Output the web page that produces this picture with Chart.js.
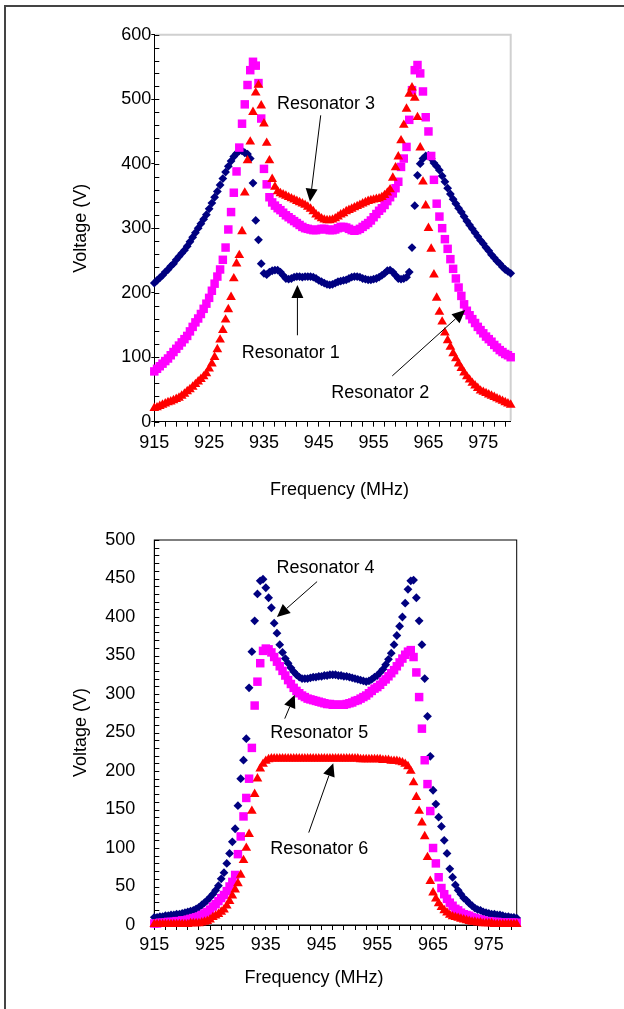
<!DOCTYPE html>
<html>
<head>
<meta charset="utf-8">
<title>Resonator voltages</title>
<script src="https://cdn.jsdelivr.net/npm/chart.js@4.4.1/dist/chart.umd.min.js"></script>
<style>
  html, body { margin: 0; padding: 0; background: #fff; }
  body { width: 624px; height: 1009px; position: relative; overflow: hidden; }
  canvas { position: absolute; left: 0; }
  #topChart { top: 0; }
  #bottomChart { top: 505px; }
  #frame { position: absolute; left: 4px; top: 5px; right: 0; bottom: 0;
           border-top: 2px solid #444; border-left: 2px solid #444; pointer-events: none; }
</style>
</head>
<body>
<canvas id="topChart" width="624" height="505"></canvas>
<canvas id="bottomChart" width="624" height="504"></canvas>
<div id="frame"></div>
<script>
"use strict";

// frequency steps (MHz), shared by both plots
const freqMHz = [
  915, 915.5, 916, 916.5, 917, 917.5, 918, 918.5, 919, 919.5,
  920, 920.5, 921, 921.5, 922, 922.5, 923, 923.5, 924, 924.5,
  925, 925.5, 926, 926.5, 927, 927.5, 928, 928.5, 929, 929.5,
  930, 930.5, 931, 931.5, 932, 932.5, 933, 933.5, 934, 934.5,
  935, 935.5, 936, 936.5, 937, 937.5, 938, 938.5, 939, 939.5,
  940, 940.5, 941, 941.5, 942, 942.5, 943, 943.5, 944, 944.5,
  945, 945.5, 946, 946.5, 947, 947.5, 948, 948.5, 949, 949.5,
  950, 950.5, 951, 951.5, 952, 952.5, 953, 953.5, 954, 954.5,
  955, 955.5, 956, 956.5, 957, 957.5, 958, 958.5, 959, 959.5,
  960, 960.5, 961, 961.5, 962, 962.5, 963, 963.5, 964, 964.5,
  965, 965.5, 966, 966.5, 967, 967.5, 968, 968.5, 969, 969.5,
  970, 970.5, 971, 971.5, 972, 972.5, 973, 973.5, 974, 974.5,
  975, 975.5, 976, 976.5, 977, 977.5, 978, 978.5, 979, 979.5,
  980
];

// top plot (V)
const res1 = [
  215, 219, 223, 227, 232, 236, 241, 245, 251, 256,
  261, 266, 272, 279, 286, 293, 300, 307, 314, 321,
  330, 339, 348, 357, 367, 377, 387, 396, 404, 411,
  416, 420, 420, 417, 415, 408, 370, 312, 282, 245,
  230, 228, 232, 234, 235, 235, 232, 227, 222, 221,
  222, 224, 225, 225, 224, 225, 225, 225, 224, 222,
  219, 217, 215, 213, 212, 213, 215, 217, 218, 219,
  220, 222, 224, 225, 225, 224, 222, 221, 220, 220,
  221, 222, 224, 227, 230, 234, 235, 232, 227, 222,
  221, 222, 224, 232, 270, 335, 382, 400, 408, 412,
  413, 408, 401, 396, 390, 381, 372, 362, 353, 345,
  338, 331, 325, 318, 311, 305, 299, 293, 287, 281,
  276, 270, 265, 259, 254, 249, 245, 240, 236, 233,
  230
];
const res2 = [
  78, 82, 86, 90, 94, 98, 103, 108, 113, 118,
  123, 128, 133, 140, 147, 154, 160, 167, 175, 183,
  192, 203, 214, 225, 236, 251, 270, 298, 325, 355,
  388, 425, 462, 492, 522, 545, 558, 552, 525, 470,
  392, 368, 348, 340, 335, 331, 328, 324, 320, 317,
  314, 311, 308, 305, 302, 300, 299, 298, 297, 297,
  298, 299, 299, 298, 297, 297, 298, 300, 302, 302,
  301, 299, 297, 296, 297, 299, 302, 305, 308, 312,
  317, 322, 327, 331, 336, 342, 348, 354, 362, 372,
  395, 408, 426, 468, 514, 545, 553, 540, 512, 472,
  450, 412, 375, 338, 318, 300, 283, 268, 252, 237,
  222, 208, 195, 182, 172, 165, 159, 153, 147, 142,
  137, 132, 128, 124, 119, 115, 111, 108, 105, 103,
  100
];
const res3 = [
  21, 22, 24, 26, 28, 30, 31, 33, 35, 37,
  40, 43, 47, 50, 54, 58, 62, 66, 70, 75,
  82, 90, 100, 112, 127, 142, 158, 174, 193, 222,
  245, 258, 295, 355, 405, 434, 480, 510, 522, 490,
  462, 432, 405, 376, 364, 357, 354, 352, 350, 348,
  346, 344, 342, 340, 338, 336, 333, 330, 326, 321,
  318, 315, 313, 312, 312, 313, 315, 318, 321, 323,
  326, 328, 330, 332, 334, 336, 338, 340, 342, 343,
  344, 345, 346, 348, 351, 355, 360, 378, 394, 411,
  436, 460, 485, 508, 518, 502, 472, 425, 372, 335,
  300, 268, 228, 192, 170, 155, 138, 126, 116, 106,
  98, 90, 83, 76, 70, 65, 60, 56, 52, 48,
  46, 44, 42, 40, 38, 36, 34, 32, 30, 28,
  26
];

// bottom plot (V)
const res4 = [
  10, 10, 11, 11, 12, 12, 13, 13, 14, 14,
  15, 16, 17, 18, 19, 21, 23, 26, 29, 32,
  36, 40, 45, 51, 60, 68, 80, 93, 108, 125,
  155, 190, 214, 242, 308, 355, 395, 430, 447, 449,
  438, 425, 412, 392, 379, 364, 354, 346, 340, 334,
  329, 325, 322, 320, 320, 320, 321, 322, 322, 323,
  323, 324, 324, 325, 325, 325, 324, 324, 323, 323,
  322, 321, 320, 319, 318, 317, 316, 317, 319, 322,
  324, 328, 332, 338, 345, 353, 364, 376, 388, 400,
  418, 436, 447, 448, 425, 395, 364, 320, 271, 219,
  175, 157, 140, 128, 110, 93, 73, 62, 52, 45,
  40, 35, 32, 28, 25, 22, 20, 19, 17, 16,
  15, 14, 14, 13, 13, 12, 11, 11, 10, 10,
  9
];
const res5 = [
  2, 2, 3, 3, 3, 4, 4, 4, 5, 5,
  6, 6, 7, 8, 9, 10, 11, 13, 15, 17,
  20, 24, 27, 31, 35, 39, 44, 50, 56, 65,
  92, 115, 141, 165, 190, 230, 285, 316, 340, 356,
  359, 358, 354, 348, 342, 336, 330, 324, 318, 313,
  308, 304, 301, 298, 296, 294, 293, 292, 291, 290,
  289, 288, 287, 287, 286, 286, 286, 286, 286, 287,
  288, 289, 291, 292, 294, 296, 298, 301, 304, 307,
  309, 312, 316, 319, 323, 327, 331, 336, 341, 346,
  351, 355, 357, 348, 328, 296, 255, 214, 183, 148,
  100, 80, 62, 48, 40, 34, 29, 25, 21, 19,
  16, 14, 13, 12, 10, 9, 8, 7, 6, 5,
  5, 4, 4, 4, 3, 3, 3, 3, 3, 3,
  3
];
const res6 = [
  1, 1, 1, 1, 1, 1, 1, 1, 1, 1,
  1, 1, 1, 2, 2, 2, 2, 3, 4, 5,
  7, 10, 12, 14, 17, 20, 25, 31, 38, 46,
  54, 65, 84, 100, 118, 148, 170, 190, 203, 209,
  213, 215, 216, 216, 216, 216, 216, 216, 216, 216,
  216, 216, 216, 216, 216, 216, 216, 216, 216, 216,
  216, 216, 216, 216, 216, 216, 216, 216, 216, 216,
  216, 216, 216, 216, 215, 215, 215, 215, 215, 215,
  215, 215, 214, 214, 214, 213, 213, 213, 212, 211,
  209, 206, 200, 185, 166, 148, 133, 115, 88, 57,
  42, 34, 28, 23, 19, 16, 13, 11, 10, 9,
  8, 7, 6, 5, 4, 4, 3, 3, 2, 2,
  2, 2, 1, 1, 1, 1, 1, 1, 1, 1,
  1
];

// tick labels
const xLabelValues = [915, 925, 935, 945, 955, 965, 975];
const topYLabels = [0, 100, 200, 300, 400, 500, 600];
const bottomYLabels = [0, 50, 100, 150, 200, 250, 300, 350, 400, 450, 500];

// callouts, in data units: label centre, arrow tail, arrow tip
const topNotes = [
  { text: "Resonator 3", at: [946.3, 492], from: [945.35, 475], to: [943.4, 341] },
  { text: "Resonator 1", at: [939.9, 107], from: [941.1, 134], to: [941.1, 212] },
  { text: "Resonator 2", at: [956.2, 45], from: [958.4, 71], to: [971.7, 173] },
];
const bottomNotes = [
  { text: "Resonator 4", at: [945.7, 464], from: [944.2, 446], to: [937, 400] },
  { text: "Resonator 5", at: [944.6, 249], from: [938.4, 268], to: [940.2, 299] },
  { text: "Resonator 6", at: [944.6, 99], from: [942.7, 120], to: [947.1, 210] },
];

Chart.defaults.font.family = "'Liberation Sans', Arial, sans-serif";
Chart.defaults.font.size = 18;
Chart.defaults.color = "#000";

// every 2 MHz gets a tick mark, only the 10 MHz ones get a label
const xTickValues = [];
for (let f = 915; f < 980; f += 2) xTickValues.push(f);

function drawArrow(ctx, x0, y0, x1, y1) {
  const ang = Math.atan2(y1 - y0, x1 - x0);
  const len = 13, half = 6;
  const bx = x1 - len * Math.cos(ang), by = y1 - len * Math.sin(ang);
  ctx.beginPath();
  ctx.moveTo(x0, y0);
  ctx.lineTo(bx, by);
  ctx.stroke();
  ctx.beginPath();
  ctx.moveTo(x1, y1);
  ctx.lineTo(bx + half * Math.sin(ang), by - half * Math.cos(ang));
  ctx.lineTo(bx - half * Math.sin(ang), by + half * Math.cos(ang));
  ctx.closePath();
  ctx.fill();
}

const decorations = {
  id: "decorations",
  beforeDatasetsDraw(chart, args, opts) {
    const { ctx, chartArea: a, scales: { y } } = chart;
    ctx.save();
    if (opts.frame === "gray") {
      ctx.strokeStyle = "#d0d0d0";
      ctx.lineWidth = 2;
      ctx.beginPath();
      ctx.moveTo(a.left + 1, a.top);
      ctx.lineTo(a.right, a.top);
      ctx.lineTo(a.right, a.bottom - 1);
      ctx.stroke();
    } else {
      ctx.strokeStyle = "#000";
      ctx.lineWidth = 1;
      ctx.strokeRect(a.left, a.top, a.right - a.left, a.bottom - a.top);
    }
    // minor y ticks point inwards
    ctx.strokeStyle = "#000";
    ctx.lineWidth = 1;
    ctx.beginPath();
    for (let v = y.min; v <= y.max; v += opts.yMinor) {
      const py = Math.round(y.getPixelForValue(v)) + 0.5;
      ctx.moveTo(a.left, py);
      ctx.lineTo(a.left + 5, py);
    }
    ctx.stroke();
    ctx.restore();
  },
  afterDraw(chart, args, opts) {
    const { ctx, chartArea: a, scales: { x, y } } = chart;
    ctx.save();
    ctx.fillStyle = "#000";
    ctx.strokeStyle = "#000";
    ctx.lineWidth = 1;
    ctx.font = "18px 'Liberation Sans', Arial, sans-serif";
    ctx.textAlign = "center";
    ctx.textBaseline = "middle";
    ctx.fillText("Frequency (MHz)", (a.left + a.right) / 2 + opts.titleDx, a.bottom + opts.titleDy);
    for (const n of opts.notes) {
      ctx.fillText(n.text, x.getPixelForValue(n.at[0]), y.getPixelForValue(n.at[1]));
      drawArrow(ctx,
        x.getPixelForValue(n.from[0]), y.getPixelForValue(n.from[1]),
        x.getPixelForValue(n.to[0]), y.getPixelForValue(n.to[1]));
    }
    ctx.restore();
  },
};

function series(label, values, style, color, radius, order) {
  return {
    label: label,
    data: freqMHz.map((f, i) => ({ x: f, y: values[i] })),
    showLine: false,
    clip: false,
    order: order,
    pointStyle: style,
    pointRadius: radius,
    pointBorderWidth: 0,
    pointBackgroundColor: color,
    pointBorderColor: color,
  };
}

function makeChart(id, datasets, cfg) {
  return new Chart(document.getElementById(id), {
    type: "scatter",
    data: { datasets: datasets },
    plugins: [decorations],
    options: {
      responsive: false,
      animation: false,
      events: [],
      layout: { padding: { left: 70, top: cfg.padTop, right: cfg.padRight, bottom: 0 } },
      plugins: {
        legend: { display: false },
        tooltip: { enabled: false },
        decorations: { frame: cfg.frame, yMinor: cfg.yMinor, titleDx: cfg.titleDx, titleDy: cfg.titleDy, notes: cfg.notes },
      },
      scales: {
        x: {
          type: "linear",
          min: 915,
          max: 980,
          afterBuildTicks: (s) => { s.ticks = xTickValues.map((v) => ({ value: v })); },
          afterFit: (s) => { s.height = cfg.xHeight; },
          ticks: {
            autoSkip: false,
            maxRotation: 0,
            padding: cfg.xPad,
            callback: (v) => (xLabelValues.includes(v) ? String(v) : ""),
          },
          grid: { drawOnChartArea: false, tickLength: 5, tickColor: "#000", color: "#000" },
          border: { display: true, color: "#000", width: 1 },
        },
        y: {
          type: "linear",
          min: 0,
          max: cfg.yMax,
          afterBuildTicks: (s) => { s.ticks = cfg.yLabels.map((v) => ({ value: v })); },
          afterFit: (s) => { s.width = 84.3; },
          ticks: { padding: cfg.yPad },
          grid: { drawOnChartArea: false, drawTicks: cfg.yTickLen > 0, tickLength: cfg.yTickLen, tickColor: "#000" },
          border: { display: true, color: "#000", width: 1 },
          title: { display: true, text: "Voltage (V)", padding: { top: 0, bottom: 0 } },
        },
      },
    },
  });
}

makeChart("topChart", [
  series("Resonator 1", res1, "rectRot", "#000080", 4.4, 3),
  series("Resonator 2", res2, "rect", "#ff00ff", 6, 2),
  series("Resonator 3", res3, "triangle", "#ff0000", 5.6, 1),
], {
  padTop: 34.7, padRight: 113.3, xHeight: 83.3, xPad: 5.8,
  yMax: 600, yLabels: topYLabels, yMinor: 20, yTickLen: 3, yPad: 0,
  frame: "gray", titleDx: 7, titleDy: 68.3, notes: topNotes,
});

makeChart("bottomChart", [
  series("Resonator 4", res4, "rectRot", "#000080", 4.4, 3),
  series("Resonator 5", res5, "rect", "#ff00ff", 6, 2),
  series("Resonator 6", res6, "triangle", "#ff0000", 5.6, 1),
], {
  padTop: 35, padRight: 107.3, xHeight: 84, xPad: 4.2,
  yMax: 500, yLabels: bottomYLabels, yMinor: 10, yTickLen: 0, yPad: 19,
  frame: "black", titleDx: -21.5, titleDy: 53.3, notes: bottomNotes,
});
</script>
</body>
</html>
